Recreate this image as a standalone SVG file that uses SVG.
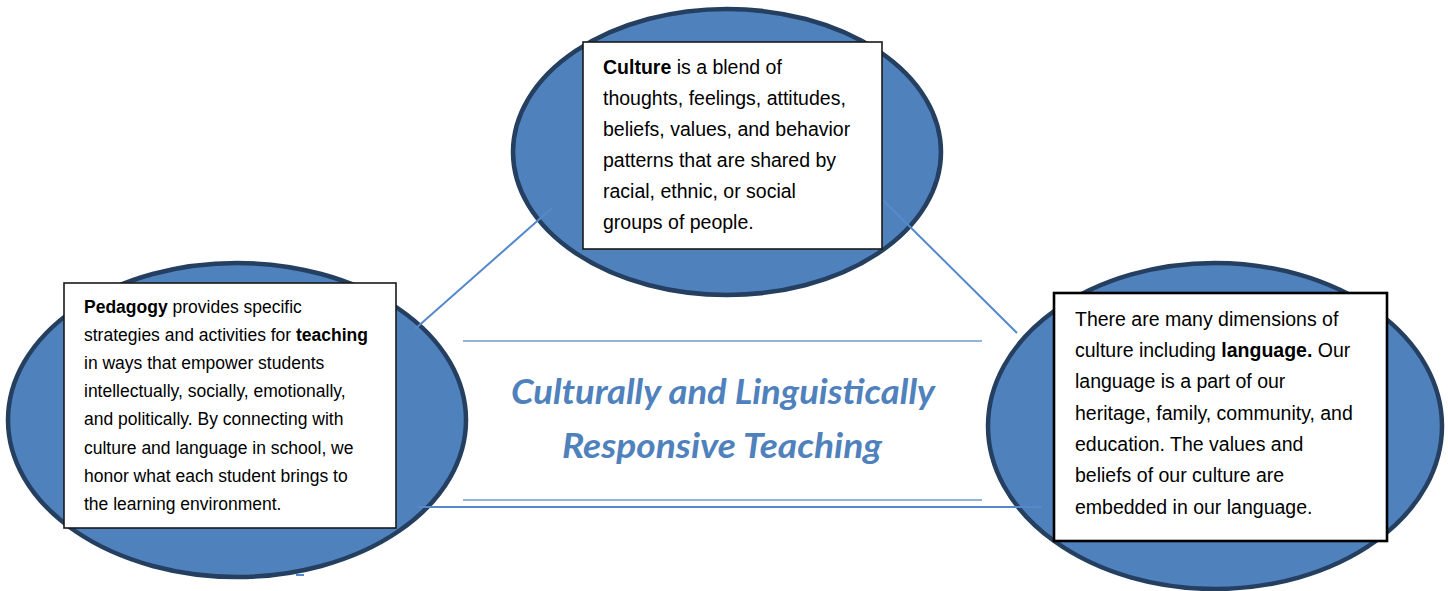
<svg xmlns="http://www.w3.org/2000/svg" width="1448" height="591" viewBox="0 0 1448 591">
  <style>
    .oval { fill: #4F81BD; stroke: #243F60; stroke-width: 4.5; }
    .box { fill: #FFFFFF; stroke: #1a1a1a; stroke-width: 1.6; }
    .box-heavy { fill: #FFFFFF; stroke: #000000; stroke-width: 2.6; }
    .link { stroke: #5589CB; stroke-width: 2; fill: none; }
    .rule { stroke: #95B3D7; stroke-width: 2; fill: none; }
    .body { font-family: "Liberation Sans", Arial, sans-serif; fill: #000000; }
    .b { font-weight: bold; }
    .title { font-family: Lato, "Open Sans", sans-serif; font-weight: bold; font-style: italic; font-size: 35px; fill: #4F81BD; text-anchor: middle; }
  </style>

  <rect width="1448" height="591" fill="#FFFFFF"/>

  <!-- ovals behind the text boxes -->
  <g id="oval-culture"><ellipse class="oval" cx="727" cy="152" rx="214" ry="143"/></g>
  <g id="oval-pedagogy"><ellipse class="oval" cx="237" cy="420" rx="229" ry="157"/></g>
  <g id="oval-language"><ellipse class="oval" cx="1215" cy="426" rx="227" ry="163"/></g>

  <!-- connectors between the three ovals -->
  <g id="connectors">
    <line class="link" x1="552" y1="208" x2="415" y2="329"/>
    <line class="link" x1="882" y1="199" x2="1017" y2="333"/>
    <line class="link" x1="418" y1="507" x2="1042" y2="507"/>
    <line class="link" x1="296" y1="575" x2="304" y2="575"/>
  </g>

  <!-- centre title -->
  <g id="title">
    <line class="rule" x1="463" y1="341" x2="982" y2="341"/>
    <line class="rule" x1="463" y1="500" x2="982" y2="500"/>
    <text class="title" x="723" y="404" textLength="424" lengthAdjust="spacingAndGlyphs">Culturally and Linguistically</text>
    <text class="title" x="722" y="458" textLength="320" lengthAdjust="spacingAndGlyphs">Responsive Teaching</text>
  </g>

  <g id="culture">
    <rect class="box" x="583" y="42" width="299" height="207"/>
    <text class="body" font-size="19.5">
      <tspan x="603" y="74"><tspan class="b">Culture</tspan> is a blend of</tspan>
      <tspan x="603" y="105">thoughts, feelings, attitudes,</tspan>
      <tspan x="603" y="136">beliefs, values, and behavior</tspan>
      <tspan x="603" y="167">patterns that are shared by</tspan>
      <tspan x="603" y="198">racial, ethnic, or social</tspan>
      <tspan x="603" y="229">groups of people.</tspan>
    </text>
  </g>

  <g id="pedagogy">
    <rect class="box" x="64" y="283" width="332" height="245"/>
    <text class="body" font-size="17.5">
      <tspan x="84" y="313"><tspan class="b">Pedagogy</tspan> provides specific</tspan>
      <tspan x="84" y="341">strategies and activities for <tspan class="b">teaching</tspan></tspan>
      <tspan x="84" y="369">in ways that empower students</tspan>
      <tspan x="84" y="397">intellectually, socially, emotionally,</tspan>
      <tspan x="84" y="425">and politically. By connecting with</tspan>
      <tspan x="84" y="454">culture and language in school, we</tspan>
      <tspan x="84" y="482">honor what each student brings to</tspan>
      <tspan x="84" y="510">the learning environment.</tspan>
    </text>
  </g>

  <g id="language">
    <rect class="box-heavy" x="1054" y="293" width="333" height="248"/>
    <text class="body" font-size="19.5">
      <tspan x="1075" y="326">There are many dimensions of</tspan>
      <tspan x="1075" y="357">culture including <tspan class="b">language.</tspan> Our</tspan>
      <tspan x="1075" y="388">language is a part of our</tspan>
      <tspan x="1075" y="420">heritage, family, community, and</tspan>
      <tspan x="1075" y="451">education. The values and</tspan>
      <tspan x="1075" y="482">beliefs of our culture are</tspan>
      <tspan x="1075" y="514">embedded in our language.</tspan>
    </text>
  </g>
</svg>
